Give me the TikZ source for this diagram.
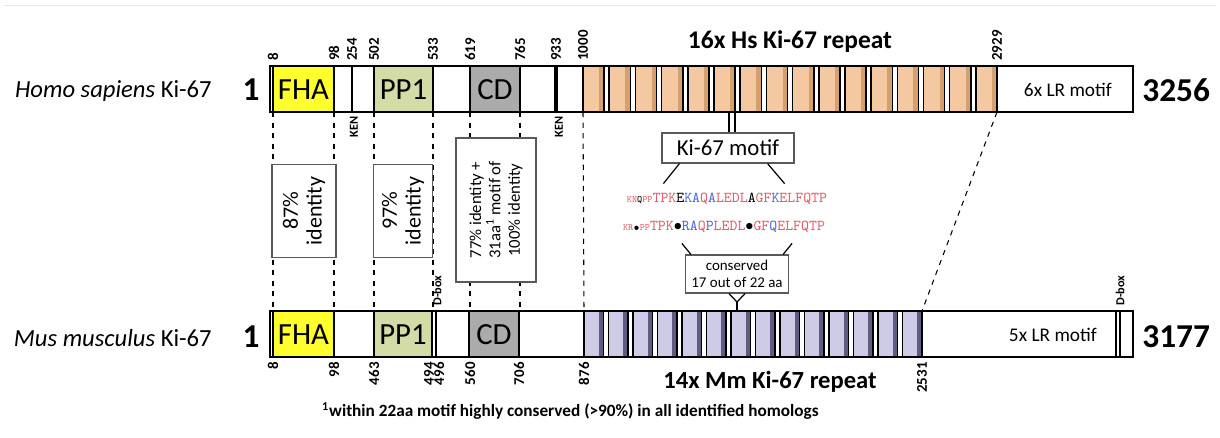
\documentclass[tikz,border=0pt]{standalone}
\usepackage{fontspec}
\setmainfont{Carlito}
\usetikzlibrary{positioning}

\definecolor{fhayellow}{HTML}{FFFF2E}
\definecolor{ppgreen}{HTML}{D3DBA6}
\definecolor{cdgray}{HTML}{ABABAB}
\definecolor{hsrep}{HTML}{F4C9A2}
\definecolor{hsrepdark}{HTML}{D6A06C}
\definecolor{mmrep}{HTML}{CDCBE6}
\definecolor{mmrepdark}{HTML}{5F5B82}
\definecolor{seqred}{HTML}{E2606E}
\definecolor{seqblue}{HTML}{4E6CD8}

\newcommand{\sqr}[1]{\textcolor{seqred}{#1}}
\newcommand{\sqb}[1]{\textcolor{seqblue}{#1}}
\newcommand{\sqs}[1]{{\fontsize{5.5}{5.5}\selectfont #1}}

\tikzset{
  protein bar/.style={draw=black, line width=0.9pt},
  domain text/.style={font=\fontsize{17.5}{17.5}\selectfont, inner sep=0pt},
  pos label/.style={font=\bfseries\fontsize{8.5}{8.5}\selectfont, rotate=90, inner sep=0.6pt},
  small label/.style={font=\bfseries\fontsize{7}{7}\selectfont, rotate=90, inner sep=0.6pt},
  species/.style={font=\fontsize{14}{14}\selectfont, inner sep=0pt},
  length label/.style={font=\bfseries\fontsize{19}{19}\selectfont, inner sep=0pt},
  homology/.style={dash pattern=on 3pt off 3pt, line width=0.6pt},
  identity box/.style={
    draw=black!65, fill=white, line width=0.7pt, rotate=90, align=center,
    inner sep=2pt
  },
  motif box/.style={draw=black!65, fill=white, line width=0.7pt, align=center},
  seq/.style={font=\ttfamily\fontsize{8.6}{8.6}\selectfont, inner sep=0pt}
}

\begin{document}
\begin{tikzpicture}[x=0.02cm, y=-0.02cm]
\useasboundingbox (0,0) rectangle (1220,437);
\draw[black!10, line width=0.5pt] (4,5) -- (1216,5);

% ------------------------------------------------
% homology lines between the two proteins
% ------------------------------------------------
\coordinate (hs8)    at (273,112);
\coordinate (hs98)   at (334,112);
\coordinate (hs502)  at (374,112);
\coordinate (hs533)  at (433,112);
\coordinate (hs619)  at (470,112);
\coordinate (hs765)  at (520,112);
\coordinate (hs1000) at (583,112);
\coordinate (hs2929) at (997,112);
\coordinate (mm8)    at (273,311);
\coordinate (mm98)   at (334,311);
\coordinate (mm463)  at (374,311);
\coordinate (mm494)  at (433,311);
\coordinate (mm560)  at (470,311);
\coordinate (mm706)  at (520,311);
\coordinate (mm876)  at (584,311);
\coordinate (mm2531) at (922,311);

\foreach \a/\b in {hs8/mm8, hs98/mm98, hs502/mm463, hs533/mm494,
                   hs619/mm560, hs765/mm706, hs1000/mm876, hs2929/mm2531}
  \draw[homology] (\a) -- (\b);

\node[identity box, minimum width=1.86cm, minimum height=1.28cm,
      font=\fontsize{12.5}{13.5}\selectfont] (id87) at (304,211) {87\%\\identity};
\node[identity box, minimum width=1.86cm, minimum height=1.18cm,
      font=\fontsize{12.5}{13.5}\selectfont] (id97) at (403,211) {97\%\\identity};
\node[identity box, minimum width=2.88cm, minimum height=1.6cm,
      font=\fontsize{9.5}{11}\selectfont] (id77) at (496,210)
      {77\% identity +\\31aa\textsuperscript{1} motif of\\100\% identity};

% ------------------------------------------------
% Homo sapiens Ki-67
% ------------------------------------------------
\node[species, anchor=east] (hsname) at (212,91) {\textit{Homo sapiens} Ki-67};
\node[length label] (hsfirst) at (251,90) {1};
\node[length label, anchor=west] (hslast) at (1142,90) {3256};

\draw[protein bar, fill=white] (270,66) rectangle (1133,112);
\draw[protein bar, fill=fhayellow] (273,66) rectangle (334,112);
\draw[protein bar, fill=ppgreen] (374,66) rectangle (433,112);
\draw[protein bar, fill=cdgray] (470,66) rectangle (520,112);
\draw[line width=1.4pt] (352,66) -- (352,112);
\draw[line width=2.6pt] (556,66) -- (556,112);

\foreach \i in {0,...,15}{
  \pgfmathsetmacro\rx{583+\i*26.19}
  \fill[hsrep] (\rx,66) rectangle ++(21.19,46);
  \fill[hsrepdark] (\rx+16.2,66) rectangle ++(5,46);
  \draw[line width=0.9pt] (\rx,66) -- ++(0,46) (\rx+21.19,66) -- ++(0,46);
}
\draw[protein bar] (270,66) rectangle (1133,112);

\node[domain text] (hsfha) at (303.5,90) {FHA};
\node[domain text] (hspp) at (403.5,90) {PP1};
\node[domain text] (hscd) at (495,90) {CD};
\node[font=\fontsize{11}{11}\selectfont, anchor=east] (hslr) at (1118,90) {6x LR motif};
\node[font=\bfseries\fontsize{14.5}{14.5}\selectfont] (hsrepeat) at (790,42) {16x Hs Ki-67 repeat};

\foreach \px/\aa in {273/8, 334/98, 352/254, 374/502, 433/533, 470/619,
                     520/765, 556/933, 583/1000, 997/2929}
  \node[pos label, anchor=west] at (\px,62) {\aa};
\node[small label, anchor=east] (hsken1) at (354,115) {KEN};
\node[small label, anchor=east] (hsken2) at (559,115) {KEN};

% ------------------------------------------------
% Ki-67 motif and sequence comparison
% ------------------------------------------------
\coordinate (tickA) at (729,112);
\coordinate (tickB) at (735,112);
\node[motif box, minimum width=2.64cm, minimum height=0.6cm,
      font=\fontsize{13}{13}\selectfont] (motif) at (728,148) {Ki-67 motif};
\draw[line width=0.7pt] (tickA) -- (tickA |- motif.north);
\draw[line width=0.7pt] (tickB) -- (tickB |- motif.north);
\draw[line width=0.7pt] ([xshift=0.36cm]motif.south west) -- ++(-16,20);
\draw[line width=0.7pt] ([xshift=-0.54cm]motif.south east) -- ++(17,20);

\node[seq] (seqhs) at (727,199)
  {\sqr{\sqs{KN}}\sqs{Q}\sqr{\sqs{PP}TPK}E\sqb{KA}\sqr{Q}\sqb{A}\sqr{LEDL}A\sqr{GF}\sqb{K}\sqr{ELFQTP}};
\node[seq] (seqmm) at (724,227)
  {\sqr{\sqs{KR}}\sqs{$\bullet$}\sqr{\sqs{PP}TPK}$\bullet$\sqb{RA}\sqr{Q}\sqb{P}\sqr{LEDL}$\bullet$\sqr{GF}\sqb{Q}\sqr{ELFQTP}};

\node[motif box, minimum width=2.06cm, minimum height=0.76cm, inner sep=1pt,
      font=\fontsize{8.5}{10}\selectfont] (cons) at (737,274) {conserved\\17 out of 22 aa};
\draw[line width=0.7pt] ([xshift=0.12cm]cons.north west) -- ++(-9,-11);
\draw[line width=0.7pt] ([xshift=-0.12cm]cons.north east) -- ++(9,-11);
\coordinate (consfoot) at (737,302);
\draw[line width=0.7pt] ([xshift=-0.16cm]cons.south) -- (consfoot)
                        -- ([xshift=0.16cm]cons.south);
\draw[line width=0.7pt] (consfoot) -- (737,311);

% ------------------------------------------------
% Mus musculus Ki-67
% ------------------------------------------------
\node[species, anchor=east] (mmname) at (212,338) {\textit{Mus musculus} Ki-67};
\node[length label] (mmfirst) at (251,337) {1};
\node[length label, anchor=west] (mmlast) at (1142,337) {3177};

\draw[protein bar, fill=white] (270,311) rectangle (1133,357);
\draw[protein bar, fill=fhayellow] (273,311) rectangle (334,357);
\draw[protein bar, fill=ppgreen] (374,311) rectangle (432,357);
\draw[protein bar, fill=cdgray] (469,311) rectangle (519,357);
\draw[line width=0.9pt] (436,311) -- (436,357);
\draw[line width=0.9pt] (1116,311) -- (1116,357) (1120,311) -- (1120,357);

\foreach \i in {0,...,13}{
  \pgfmathsetmacro\rx{584+\i*24.5}
  \fill[mmrep] (\rx,311) rectangle ++(19.5,46);
  \fill[mmrepdark] (\rx+14.5,311) rectangle ++(5,46);
  \draw[line width=0.9pt] (\rx,311) -- ++(0,46) (\rx+19.5,311) -- ++(0,46);
}
\draw[protein bar] (270,311) rectangle (1133,357);

\node[domain text] (mmfha) at (303.5,335) {FHA};
\node[domain text] (mmpp) at (403,335) {PP1};
\node[domain text] (mmcd) at (494,335) {CD};
\node[font=\fontsize{11}{11}\selectfont, anchor=east] (mmlr) at (1103,335) {5x LR motif};
\node[font=\bfseries\fontsize{14}{14}\selectfont] (mmrepeat) at (770,382) {14x Mm Ki-67 repeat};

\foreach \px/\aa in {273/8, 334/98, 374/463, 429/494, 439/496, 470/560,
                     519/706, 584/876, 922/2531}
  \node[pos label, anchor=east] at (\px,361) {\aa};
\node[small label, anchor=west] (mmdbox1) at (437,307) {D-box};
\node[small label, anchor=west] (mmdbox2) at (1120,307) {D-box};

% footnote
\node[font=\bfseries\fontsize{9.8}{9.8}\selectfont, anchor=west] (note) at (316,411)
  {\textsuperscript{1}within 22aa motif highly conserved (>90\%) in all identified homologs};
\end{tikzpicture}
\end{document}
